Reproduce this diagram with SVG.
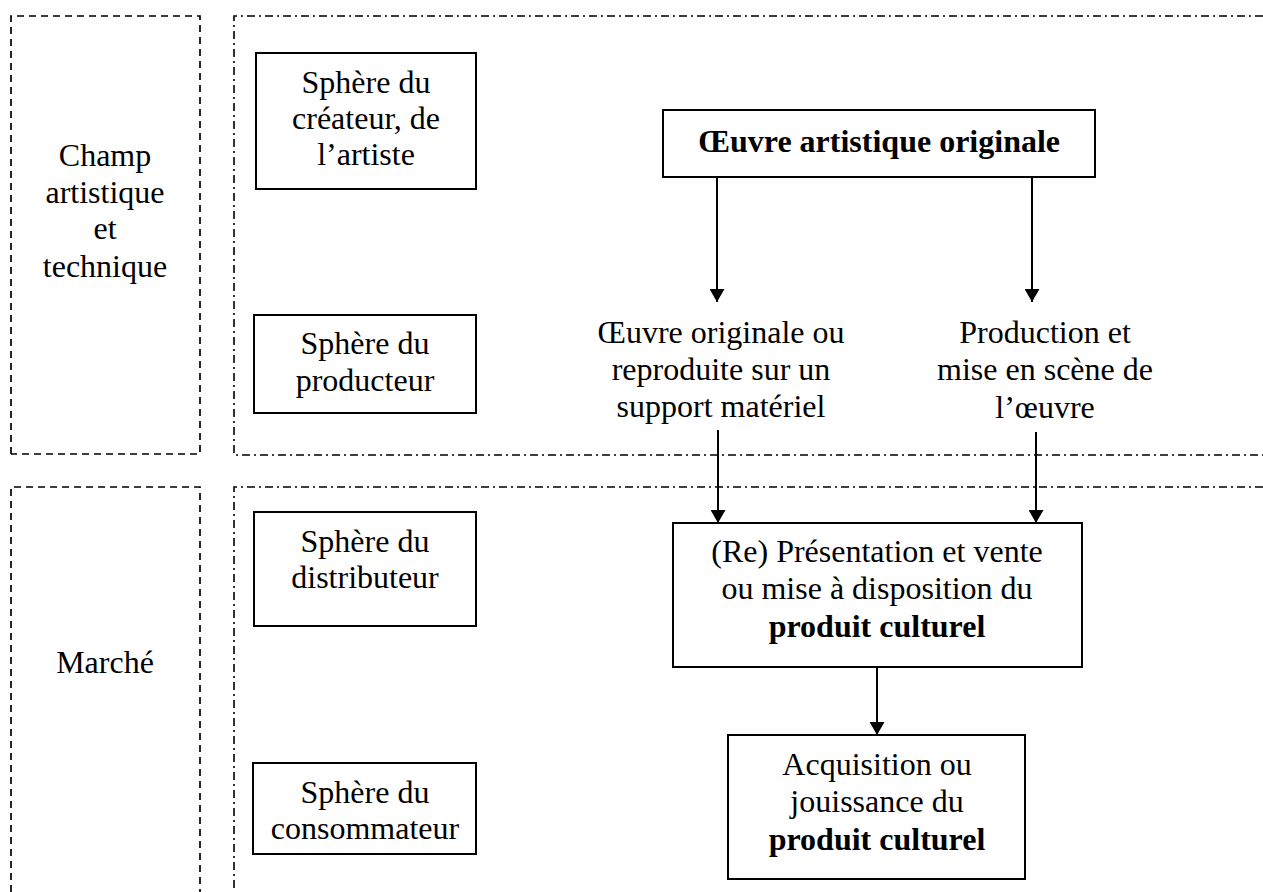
<svg xmlns="http://www.w3.org/2000/svg" width="1263" height="892" viewBox="0 0 1263 892">
<style>
  text { font-family: "Liberation Serif", "Times New Roman", serif; font-size: 32px; fill: #000; text-anchor: middle; }
  .b { font-weight: bold; }
  .zone { fill: none; stroke: #000; stroke-width: 1.7; stroke-dasharray: 7 5; }
  .field { fill: none; stroke: #000; stroke-width: 1.6; stroke-dasharray: 8 4 2 4; }
  .box { fill: #fff; stroke: #000; stroke-width: 2; }
  .conn line { stroke: #000; stroke-width: 2; }
</style>
<defs>
  <marker id="arr" viewBox="0 0 13 15" refX="13" refY="7.5" markerWidth="13" markerHeight="15" markerUnits="userSpaceOnUse" orient="auto">
    <path d="M0,0 L13,7.5 L0,15 Z" fill="#000"/>
  </marker>
</defs>
<rect width="1263" height="892" fill="#fff"/>

<g id="zone-champ">
  <path class="zone" d="M11,454 V16 H200 V454 H11"/>
  <text x="105" y="166">Champ</text>
  <text x="105" y="203">artistique</text>
  <text x="105" y="239">et</text>
  <text x="105" y="277">technique</text>
</g>
<g id="zone-marche">
  <path class="zone" d="M11,892 V487 H200 V892"/>
  <text x="105" y="673">Marché</text>
</g>
<g id="field-top">
  <path class="field" d="M1263,16 H234 V455 H1263"/>
</g>
<g id="field-bottom">
  <path class="field" d="M1263,487 H234 V892"/>
</g>

<g id="sphere-createur">
  <rect class="box" x="256" y="53" width="220" height="136"/>
  <text x="366" y="93">Sphère du</text>
  <text x="366" y="129">créateur, de</text>
  <text x="366" y="165">l’artiste</text>
</g>
<g id="sphere-producteur">
  <rect class="box" x="254" y="315" width="222" height="98"/>
  <text x="365" y="354">Sphère du</text>
  <text x="365" y="391">producteur</text>
</g>
<g id="sphere-distributeur">
  <rect class="box" x="254" y="512" width="222" height="114"/>
  <text x="365" y="552">Sphère du</text>
  <text x="365" y="588">distributeur</text>
</g>
<g id="sphere-consommateur">
  <rect class="box" x="253" y="763" width="223" height="91"/>
  <text x="365" y="803">Sphère du</text>
  <text x="365" y="839">consommateur</text>
</g>

<g id="oeuvre-originale">
  <rect class="box" x="663" y="110" width="432" height="67"/>
  <text class="b" x="879" y="152">Œuvre artistique originale</text>
</g>
<g id="oeuvre-support">
  <text x="721" y="343">Œuvre originale ou</text>
  <text x="721" y="380">reproduite sur un</text>
  <text x="721" y="417">support matériel</text>
</g>
<g id="production-scene">
  <text x="1045" y="343">Production et</text>
  <text x="1045" y="380">mise en scène de</text>
  <text x="1045" y="418">l’œuvre</text>
</g>
<g id="presentation-vente">
  <rect class="box" x="673" y="523" width="409" height="144"/>
  <text x="877" y="562">(Re) Présentation et vente</text>
  <text x="877" y="599">ou mise à disposition du</text>
  <text x="877" y="637" class="b">produit culturel</text>
</g>
<g id="acquisition">
  <rect class="box" x="728" y="735" width="297" height="144"/>
  <text x="877" y="775">Acquisition ou</text>
  <text x="877" y="812">jouissance du</text>
  <text x="877" y="850" class="b">produit culturel</text>
</g>

<g id="connectors" class="conn">
  <line x1="717" y1="177" x2="717" y2="302" marker-end="url(#arr)"/>
  <line x1="1032" y1="177" x2="1032" y2="302" marker-end="url(#arr)"/>
  <line x1="718" y1="430" x2="718" y2="523" marker-end="url(#arr)"/>
  <line x1="1036" y1="432" x2="1036" y2="523" marker-end="url(#arr)"/>
  <line x1="877" y1="667" x2="877" y2="735" marker-end="url(#arr)"/>
</g>
</svg>
